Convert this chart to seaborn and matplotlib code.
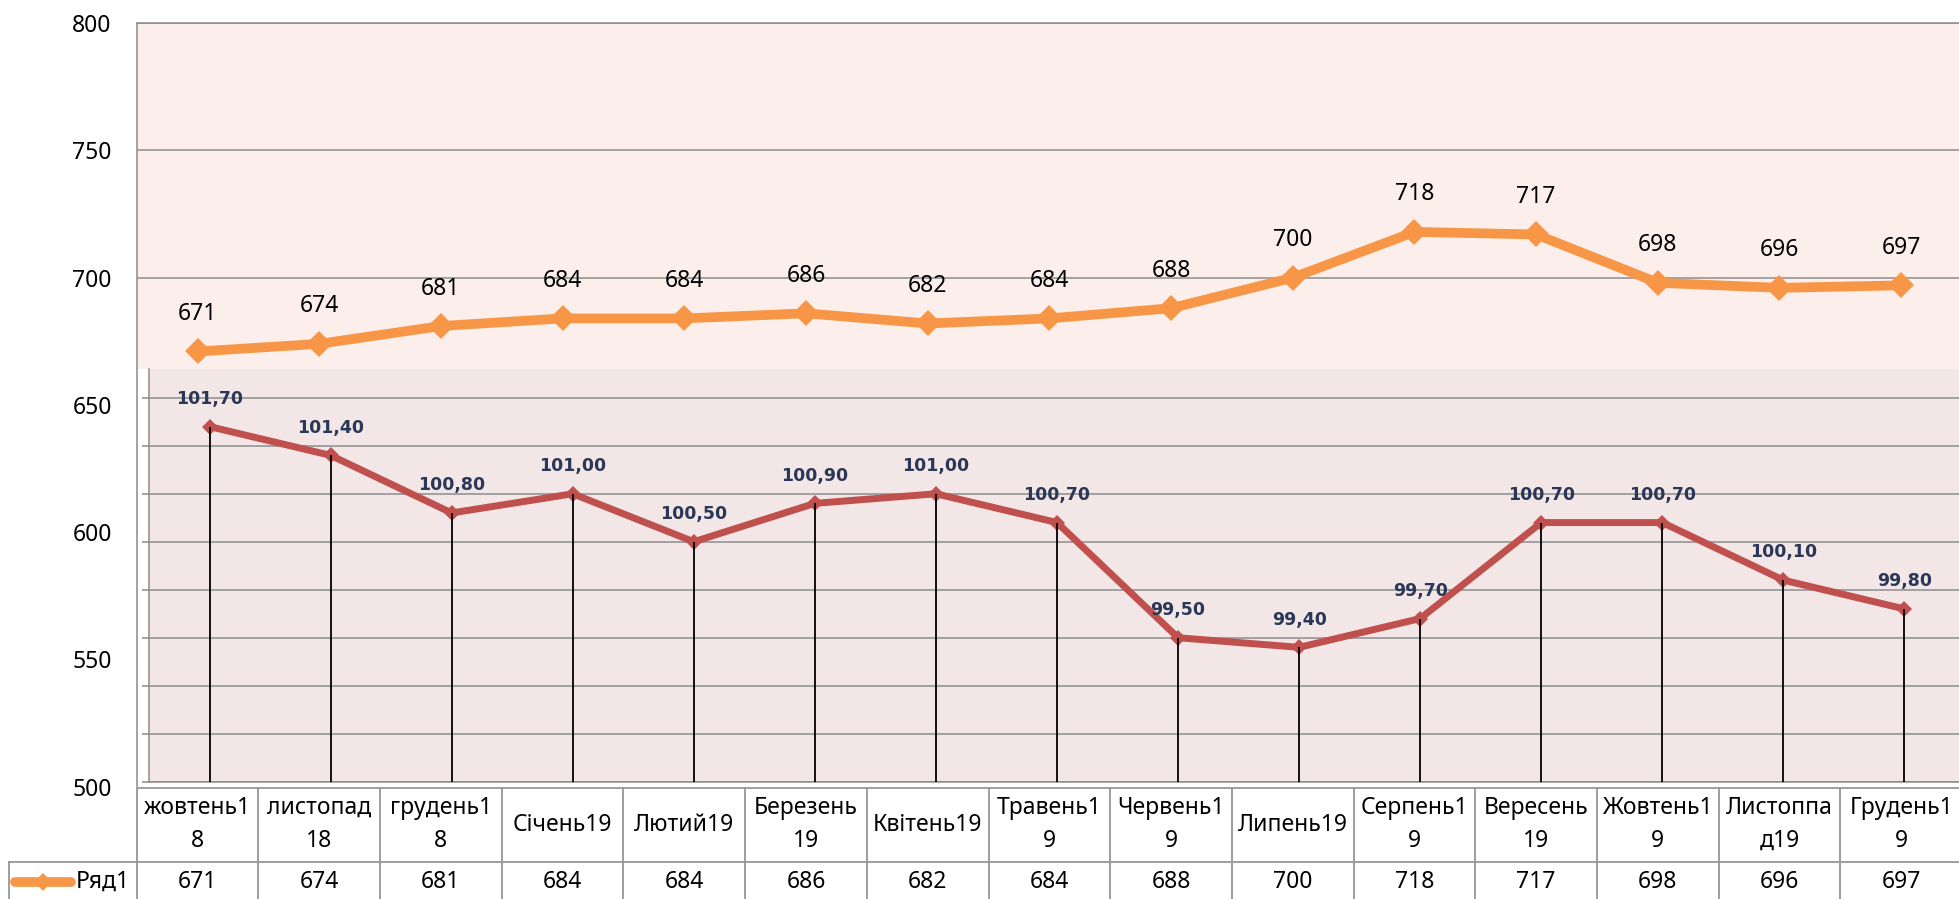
import numpy as np
import pandas as pd
import matplotlib
matplotlib.use('Agg')
import matplotlib.pyplot as plt
from matplotlib.patches import Rectangle
import seaborn as sns

# data
months = ['жовтень18', 'листопад18', 'грудень18', 'Січень19', 'Лютий19',
          'Березень19', 'Квітень19', 'Травень19', 'Червень19', 'Липень19',
          'Серпень19', 'Вересень19', 'Жовтень19', 'Листоппад19', 'Грудень19']
# how Excel wrapped them in the data table
month_labels = ['жовтень1\n8', 'листопад\n18', 'грудень1\n8', 'Січень19',
                'Лютий19', 'Березень\n19', 'Квітень19', 'Травень1\n9',
                'Червень1\n9', 'Липень19', 'Серпень1\n9', 'Вересень\n19',
                'Жовтень1\n9', 'Листоппа\nд19', 'Грудень1\n9']
series_name = 'Ряд1'
values = [671, 674, 681, 684, 684, 686, 682, 684, 688, 700, 718, 717, 698,
          696, 697]
index_values = [101.70, 101.40, 100.80, 101.00, 100.50, 100.90, 101.00,
                100.70, 99.50, 99.40, 99.70, 100.70, 100.70, 100.10, 99.80]
main_ticks = [500, 550, 600, 650, 700, 750, 800]
index_ticks = [98, 98.5, 99, 99.5, 100, 100.5, 101, 101.5, 102]

df = pd.DataFrame({'pos': np.arange(len(months)), 'month': months,
                   'value': values, 'index': index_values})

sns.set_theme(style='white')
plt.rcParams['font.family'] = ['Noto Sans', 'DejaVu Sans']

orange = '#f79646'
red = '#c0504d'
grid_c = '#8c8c8c'
W, H = 1959, 899


def fx(px):
    return px / W


def fy(py):
    return 1 - py / H


fig = plt.figure(figsize=(W / 100, H / 100), dpi=100)
fig.patch.set_facecolor('white')

# %% main chart
ax = fig.add_axes([fx(136.7), fy(786.5), fx(1962 - 136.7), (786.5 - 23.3) / H])
ax.set_facecolor('#fcefeb')
sns.lineplot(data=df, x='pos', y='value', ax=ax, sort=False, color=orange,
             lw=7, marker='D', markersize=13, markeredgewidth=0,
             solid_joinstyle='round')
ax.set_xlim(-0.5, len(months) - 0.5)
ax.set_ylim(500, 800)
ax.set_yticks(main_ticks)
ax.set_xticks([])
ax.set(xlabel='', ylabel='')
ax.grid(axis='y', color=grid_c, lw=1.1)
ax.set_axisbelow(True)
for s in ['right', 'bottom']:
    ax.spines[s].set_visible(False)
for s in ['left', 'top']:
    ax.spines[s].set_color(grid_c)
    ax.spines[s].set_linewidth(1.1)
ax.tick_params(axis='y', length=0, pad=18, labelsize=16.5, labelcolor='black')
for i, v in enumerate(values):
    ax.annotate(str(v), (i, v), xytext=(0, 27), textcoords='offset points',
                ha='center', va='center', fontsize=16.5, color='black')

# %% pasted index chart
fig.add_artist(Rectangle((fx(137.5), fy(787)), fx(1965 - 137.5),
                         (787 - 369) / H, transform=fig.transFigure,
                         facecolor='white', edgecolor='none', zorder=2))
ax2 = fig.add_axes([fx(149), fy(781.7), fx(1965 - 149), (781.7 - 369) / H],
                   zorder=3)
ax2.set_facecolor('#f2e7e6')
sns.lineplot(data=df, x='pos', y='index', ax=ax2, sort=False, color=red,
             lw=5, marker='D', markersize=8, markeredgewidth=0,
             solid_joinstyle='round')
ax2.vlines(df['pos'], index_ticks[0], df['index'], color='black', lw=1.3,
           zorder=4)
ax2.set_xlim(-0.5, len(months) - 0.5)
ax2.set_ylim(98, 102.3)
ax2.set_yticks(index_ticks)
ax2.set_xticks([])
ax2.set(xlabel='', ylabel='')
ax2.grid(axis='y', color=grid_c, lw=1.1)
ax2.set_axisbelow(True)
for s in ['right', 'top']:
    ax2.spines[s].set_visible(False)
for s in ['left', 'bottom']:
    ax2.spines[s].set_color(grid_c)
    ax2.spines[s].set_linewidth(1.1)
ax2.tick_params(axis='y', length=5, width=1.1, color=grid_c, direction='out',
                labelleft=False, left=True)
for i, v in enumerate(index_values):
    ax2.annotate('{:.2f}'.format(v).replace('.', ','), (i, v),
                 xytext=(0, 20), textcoords='offset points', ha='center',
                 va='center', fontsize=12.5, fontweight='bold',
                 color='#2a3756', family='DejaVu Sans')

# %% data table
axt = fig.add_axes([fx(136.7), 0, fx(1962 - 136.7), (H - 787.7) / H])
axt.set_axis_off()
axt.set_xlim(-0.5, len(months) - 0.5)
axt.set_ylim(H - 787.7, 0)
row_split = 861.7 - 787.7
col_w = 121.7


def cat(px):
    return -0.5 + (px - 136.7) / col_w


line_kw = dict(color='#969696', lw=1.3, clip_on=False)
axt.plot([-0.5, len(months) - 0.5], [0.5, 0.5], **line_kw)
axt.plot([cat(9.3), len(months) - 0.5], [row_split, row_split], **line_kw)
for i in range(len(months) + 1):
    axt.plot([i - 0.5, i - 0.5], [0, H - 787.7], **line_kw)
axt.plot([cat(9.3), cat(9.3)], [row_split, H - 787.7], **line_kw)

for i, lab in enumerate(month_labels):
    axt.text(i, 37, lab, ha='center', va='center', fontsize=16.5,
             linespacing=1.5, color='black')
for i, v in enumerate(values):
    axt.text(i, 94, str(v), ha='center', va='center', fontsize=16.5,
             color='black')

axt.plot([cat(15), cat(71)], [94, 94], color=orange, lw=7,
         solid_capstyle='round', clip_on=False)
axt.plot([cat(43)], [94], marker='D', markersize=9, color=orange,
         markeredgewidth=0, clip_on=False)
axt.text(cat(76), 94, series_name, ha='left', va='center', fontsize=16.5,
         color='black', clip_on=False)

fig.savefig('out.png', dpi=100)
